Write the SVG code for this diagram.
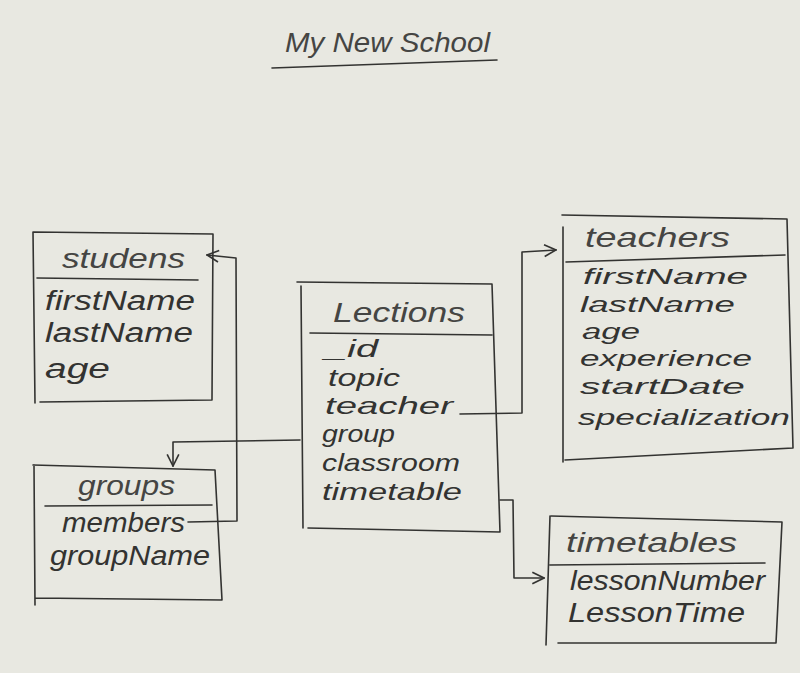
<svg xmlns="http://www.w3.org/2000/svg" width="800" height="673" viewBox="0 0 800 673">
<defs>
<style>
.bg{fill:#e8e8e1}
.ln{fill:none;stroke:#333331;stroke-width:1.6;stroke-linecap:round;stroke-linejoin:round}
.t{font-family:"Liberation Sans",Arial,sans-serif;font-style:italic;font-size:27px;fill:#333331}
.h{font-size:28px;fill:#454543}
.s{font-size:24px}
.xs{font-size:22px}
</style>
<marker id="ah" viewBox="0 0 12 12" refX="11" refY="6" markerWidth="14" markerHeight="14" markerUnits="userSpaceOnUse" orient="auto">
<path d="M1,1 L11,6 L1,11" fill="none" stroke="#333331" stroke-width="1.4"/>
</marker>
</defs>
<rect class="bg" x="0" y="0" width="800" height="673"/>

<g id="title">
<text class="t h" x="285" y="52" textLength="205" lengthAdjust="spacingAndGlyphs">My New School</text>
<path class="ln" d="M272,68 L497,60"/>
</g>

<g id="connectors">
<path class="ln" d="M188,522 L237,521 L236,258 L207,255" marker-end="url(#ah)"/>
<path class="ln" d="M300,440 L173,442 L173,466" marker-end="url(#ah)"/>
<path class="ln" d="M460,414 L522,413 L522,252 L556,250" marker-end="url(#ah)"/>
<path class="ln" d="M500,500 L513,500 L514,578 L544,578" marker-end="url(#ah)"/>
</g>

<g id="studens">
<path class="ln" d="M33,232 L213,234 L212,400 L40,402 M33,232 L35,403 M37,278 L198,280"/>
<text class="t h" x="62" y="268" textLength="123" lengthAdjust="spacingAndGlyphs">studens</text>
<text class="t" x="45" y="310" textLength="150" lengthAdjust="spacingAndGlyphs">firstName</text>
<text class="t" x="45" y="342" textLength="148" lengthAdjust="spacingAndGlyphs">lastName</text>
<text class="t" x="45" y="378" textLength="65" lengthAdjust="spacingAndGlyphs">age</text>
</g>

<g id="groups">
<path class="ln" d="M33,465 L215,470 L222,600 L35,598 M34,465 L35,605 M45,506 L212,505"/>
<text class="t h" x="78" y="495" textLength="97" lengthAdjust="spacingAndGlyphs">groups</text>
<text class="t" x="62" y="532" textLength="123" lengthAdjust="spacingAndGlyphs">members</text>
<text class="t" x="50" y="565" textLength="160" lengthAdjust="spacingAndGlyphs">groupName</text>
</g>

<g id="lections">
<path class="ln" d="M297,282 L492,284 L500,532 L308,528 M301,286 L303,528 M310,333 L492,335"/>
<text class="t h" x="333" y="322" textLength="132" lengthAdjust="spacingAndGlyphs">Lections</text>
<text class="t s" x="325" y="357" textLength="53" lengthAdjust="spacingAndGlyphs">_id</text>
<text class="t s" x="328" y="386" textLength="72" lengthAdjust="spacingAndGlyphs">topic</text>
<text class="t s" x="325" y="414" textLength="128" lengthAdjust="spacingAndGlyphs">teacher</text>
<text class="t s" x="322" y="442" textLength="73" lengthAdjust="spacingAndGlyphs">group</text>
<text class="t s" x="322" y="471" textLength="138" lengthAdjust="spacingAndGlyphs">classroom</text>
<text class="t s" x="322" y="500" textLength="140" lengthAdjust="spacingAndGlyphs">timetable</text>
</g>

<g id="teachers">
<path class="ln" d="M562,215 L787,219 L793,448 L565,460 M563,227 L563,462 M566,262 L785,255"/>
<text class="t h" x="585" y="247" textLength="145" lengthAdjust="spacingAndGlyphs">teachers</text>
<text class="t xs" x="583" y="284" textLength="165" lengthAdjust="spacingAndGlyphs">firstName</text>
<text class="t xs" x="580" y="312" textLength="155" lengthAdjust="spacingAndGlyphs">lastName</text>
<text class="t xs" x="582" y="339" textLength="58" lengthAdjust="spacingAndGlyphs">age</text>
<text class="t xs" x="580" y="366" textLength="172" lengthAdjust="spacingAndGlyphs">experience</text>
<text class="t xs" x="580" y="394" textLength="165" lengthAdjust="spacingAndGlyphs">startDate</text>
<text class="t xs" x="578" y="425" textLength="212" lengthAdjust="spacingAndGlyphs">specialization</text>
</g>

<g id="timetables">
<path class="ln" d="M551,516 L782,522 L776,643 L558,643 M550,516 L546,645 M550,565 L765,563"/>
<text class="t h" x="566" y="552" textLength="171" lengthAdjust="spacingAndGlyphs">timetables</text>
<text class="t" x="570" y="590" textLength="195" lengthAdjust="spacingAndGlyphs">lessonNumber</text>
<text class="t" x="568" y="622" textLength="177" lengthAdjust="spacingAndGlyphs">LessonTime</text>
</g>
</svg>
